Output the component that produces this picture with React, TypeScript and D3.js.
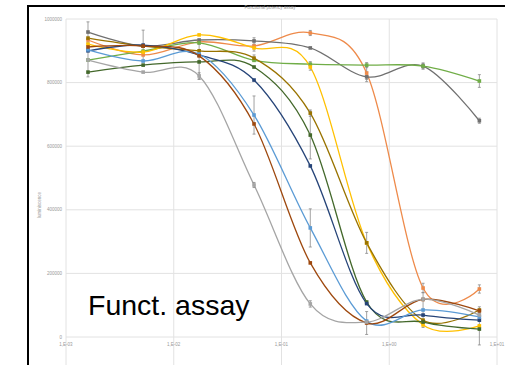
import React from 'react';
import * as d3 from 'd3';

// concentrations (log x) and tick labels
const concentrations = [0.0016, 0.0052, 0.0172, 0.0556, 0.185, 0.617, 2.06, 6.86];
const xTicks = [0.001, 0.01, 0.1, 1, 10];
const xTickLabels = ['1,E-03', '1,E-02', '1,E-01', '1,E+00', '1,E+01'];
const yTicks = [0, 200000, 400000, 600000, 800000, 1000000];

// series values (luminescence, thousands) and error bars
const orangeVals = [934, 887, 928, 915, 956, 830, 154, 151];
const orangeErr = [0, 0, 0, 0, 8, 20, 15, 13];
const darkGreyVals = [959, 915, 934, 931, 909, 818, 852, 680];
const darkGreyErr = [32, 50, 0, 10, 0, 15, 10, 8];
const greenVals = [871, 899, 925, 870, 858, 855, 852, 805];
const greenErr = [0, 0, 0, 0, 8, 8, 8, 20];
const yellowVals = [921, 896, 950, 909, 849, 296, 38, 35];
const yellowErr = [0, 0, 0, 10, 10, 33, 0, 0];
const oliveVals = [940, 915, 900, 877, 704, 296, 53, 85];
const oliveErr = [0, 0, 0, 10, 10, 0, 0, 10];
const darkGreenVals = [833, 855, 865, 849, 635, 110, 47, 25];
const darkGreenErr = [0, 0, 55, 0, 75, 0, 0, 50];
const navyVals = [900, 918, 887, 808, 538, 105, 69, 53];
const navyErr = [0, 0, 0, 0, 0, 0, 0, 0];
const lightBlueVals = [903, 868, 890, 698, 343, 50, 85, 63];
const lightBlueErr = [0, 0, 0, 60, 60, 0, 55, 0];
const brownVals = [912, 915, 884, 670, 233, 44, 118, 82];
const brownErr = [0, 0, 0, 0, 0, 36, 0, 0];
const lightGreyVals = [871, 833, 821, 478, 104, 47, 119, 69];
const lightGreyErr = [53, 0, 10, 8, 10, 0, 0, 0];

const series = [
  { name: 'A', color: '#EE8A4A', vals: orangeVals, err: orangeErr },
  { name: 'B', color: '#707070', vals: darkGreyVals, err: darkGreyErr },
  { name: 'C', color: '#70AD47', vals: greenVals, err: greenErr },
  { name: 'D', color: '#FFC000', vals: yellowVals, err: yellowErr },
  { name: 'E', color: '#997300', vals: oliveVals, err: oliveErr },
  { name: 'F', color: '#43682B', vals: darkGreenVals, err: darkGreenErr },
  { name: 'G', color: '#264478', vals: navyVals, err: navyErr },
  { name: 'H', color: '#5B9BD5', vals: lightBlueVals, err: lightBlueErr },
  { name: 'I', color: '#9E480E', vals: brownVals, err: brownErr },
  { name: 'J', color: '#A5A5A5', vals: lightGreyVals, err: lightGreyErr },
];

const W = 505;
const H = 365;
const left = 66, right = 497, top = 19, bottom = 337;

export default function App() {
  const x = d3.scaleLog().domain([0.001, 10]).range([left, right]);
  const y = d3.scaleLinear().domain([0, 1000000]).range([bottom, top]);

  const line = d3.line<number>()
    .x((d, i) => x(concentrations[i]))
    .y(d => y(d * 1000))
    .curve(d3.curveCardinal.tension(0));

  return (
    <div style={{ position: 'fixed', left: 0, top: 0 }}>
      <svg width={W} height={H} style={{ display: 'block', background: '#fff' }}>
        <rect x={28} y={6} width={500} height={400} fill="#fff" stroke="#000" strokeWidth={2} />

        {/* gridlines */}
        {yTicks.map(t => (
          <line key={'gy' + t} x1={left} x2={right} y1={y(t)} y2={y(t)} stroke="#e2e2e2" strokeWidth={1} />
        ))}
        {xTicks.map(t => (
          <line key={'gx' + t} x1={x(t)} x2={x(t)} y1={top} y2={H} stroke="#e2e2e2" strokeWidth={1} />
        ))}

        {/* axis labels */}
        {yTicks.map(t => (
          <text key={'ty' + t} x={62} y={y(t) + 1.5} textAnchor="end" fontSize={4.5}
            fontFamily="Liberation Sans, Arial, sans-serif" fill="#999">{t}</text>
        ))}
        {xTicks.map((t, i) => (
          <text key={'tx' + t} x={x(t)} y={346} textAnchor="middle" fontSize={4.5}
            fontFamily="Liberation Sans, Arial, sans-serif" fill="#999">{xTickLabels[i]}</text>
        ))}
        <text transform="translate(41,205) rotate(-90)" textAnchor="middle"
          fontSize={4.5} fontFamily="Liberation Sans, Arial, sans-serif" fill="#999">luminiscence</text>
        <text x={270} y={9} textAnchor="middle" fontSize={4.5}
          fontFamily="Liberation Sans, Arial, sans-serif" fill="#999">Functional potency assay</text>

        {/* series lines */}
        {series.map(s => (
          <path key={'l' + s.name} d={line(s.vals) || ''} fill="none" stroke={s.color} strokeWidth={1.3} />
        ))}

        {/* error bars */}
        {series.map(s => s.vals.map((v, i) => {
          const e = s.err[i];
          if (!e) return null;
          const cx = x(concentrations[i]);
          const y1 = y((v + e) * 1000), y2 = y((v - e) * 1000);
          return (
            <g key={'e' + s.name + i} stroke="#8a8a8a" strokeWidth={0.8}>
              <line x1={cx} x2={cx} y1={y1} y2={y2} />
              <line x1={cx - 1.5} x2={cx + 1.5} y1={y1} y2={y1} />
              <line x1={cx - 1.5} x2={cx + 1.5} y1={y2} y2={y2} />
            </g>
          );
        }))}

        {/* markers */}
        {series.map(s => s.vals.map((v, i) => (
          <rect key={'m' + s.name + i} x={x(concentrations[i]) - 1.8} y={y(v * 1000) - 1.8}
            width={3.6} height={3.6} fill={s.color} />
        )))}

        <text x={88} y={315} fontSize={28.5} fontFamily="Liberation Sans, Arial, sans-serif" fill="#000">Funct. assay</text>
      </svg>
    </div>
  );
}
